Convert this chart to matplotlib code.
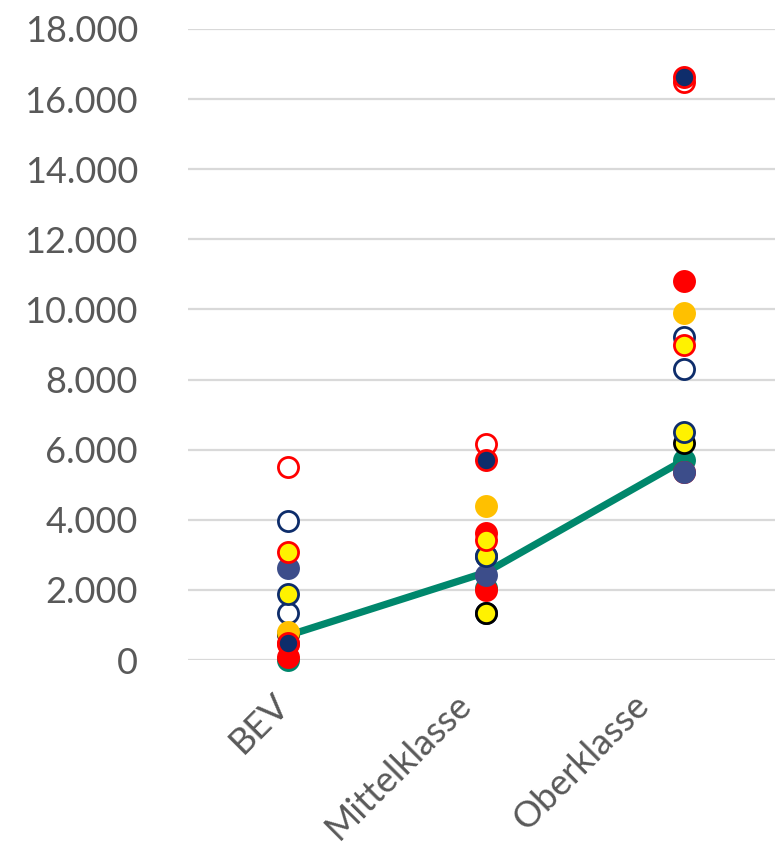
import matplotlib.pyplot as plt
from matplotlib.transforms import ScaledTranslation

categories = ['BEV', 'Mittelklasse', 'Oberklasse']

# one list per series, values per category
green_fill = [0, 2050, 5700]
red_fill_b = [100, 2000, 5360]
red_fill_a = [450, 3620, 10810]
navy_open_b = [1340, 1340, 8300]
navy_open_a = [3960, 2970, 9220]
yellow_black = [750, 1340, 6190]
orange_fill = [800, 4390, 9900]
slate_fill = [2620, 2420, 5360]
yellow_navy = [1880, 2970, 6500]
yellow_red = [3080, 3420, 8990]
red_open = [5500, 6160, 16490]
navy_red = [480, 5700, 16630]
average = [700, 2500, 5700]

yticks = list(range(0, 18001, 2000))
ytick_labels = [f'{v:,}'.replace(',', '.') for v in yticks]

RED = '#FF0000'
NAVY = '#0E2D6B'
SLATE = '#3C4D8A'
YELLOW = '#FFF200'
ORANGE = '#FFC000'
GREEN = '#00876C'
GREY = '#595959'

plt.rcParams['font.family'] = ['Lato', 'DejaVu Sans']

fig = plt.figure(figsize=(7.75, 8.51), dpi=100)
ax = fig.add_axes([0.2426, 0.2244, 0.7574, 0.7416])

x = list(range(len(categories)))

ax.plot(x, average, color=GREEN, lw=5.2, solid_capstyle='butt', zorder=2)

series = [
    (green_fill, GREEN, GREEN),
    (red_fill_b, RED, RED),
    (red_fill_a, RED, RED),
    (navy_open_b, 'white', NAVY),
    (navy_open_a, 'white', NAVY),
    (yellow_black, YELLOW, 'black'),
    (orange_fill, ORANGE, ORANGE),
    (slate_fill, SLATE, SLATE),
    (yellow_navy, YELLOW, NAVY),
    (yellow_red, YELLOW, RED),
    (red_open, 'white', RED),
    (navy_red, NAVY, RED),
]
for i, (vals, face, edge) in enumerate(series):
    ax.plot(x, vals, linestyle='none', marker='o', ms=14.5, mfc=face,
            mec=edge, mew=2.0, clip_on=False, zorder=3 + i)

ax.set_xlim(-0.505, 2.46)
ax.set_ylim(0, 18000)
ax.set_yticks(yticks)
ax.set_yticklabels(ytick_labels)
ax.set_xticks(x)
ax.set_xticklabels(categories, rotation=45, ha='right', va='top',
                   rotation_mode='anchor')
ax.yaxis.grid(True, color='#D9D9D9', lw=1.6)
ax.set_axisbelow(True)
for s in ax.spines.values():
    s.set_visible(False)
ax.tick_params(axis='both', length=0, colors=GREY, labelsize=26)
ax.tick_params(axis='y', pad=36)
ax.tick_params(axis='x', pad=20)

# nudge the slanted category labels to the left
for lbl, dx in zip(ax.get_xticklabels(), [-0.16, -0.32, -0.52]):
    lbl.set_transform(lbl.get_transform() + ScaledTranslation(dx, 0, fig.dpi_scale_trans))

fig.savefig('out.png', dpi=100)
